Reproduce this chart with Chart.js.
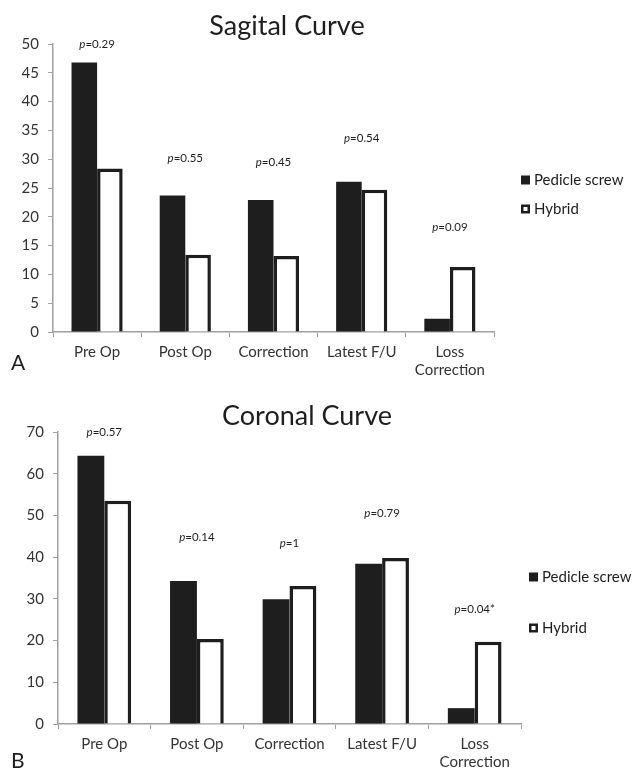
<!DOCTYPE html>
<html>
<head>
<meta charset="utf-8">
<script src="https://cdn.jsdelivr.net/npm/chart.js@4.4.1/dist/chart.umd.min.js"></script>
<style>
  body { margin: 0; background: #fff; }
  canvas { display: block; }
</style>
</head>
<body>
<canvas id="sagital" width="636" height="380"></canvas>
<canvas id="coronal" width="636" height="394"></canvas>
<script>
// Datos
const categories = ['Pre Op', 'Post Op', 'Correction', 'Latest F/U', ['Loss', 'Correction']];
const seriesNames = ['Pedicle screw', 'Hybrid'];

const sagitalScrew = [46.8, 23.7, 22.9, 26.1, 2.3];
const sagitalHybrid = [28.4, 13.4, 13.2, 24.7, 11.3];
const sagitalP = ['0.29', '0.55', '0.45', '0.54', '0.09'];
const sagitalPAt = [50, 30.2, 29.4, 33.7, 18.2];

const coronalScrew = [64.3, 34.3, 29.9, 38.4, 3.8];
const coronalHybrid = [53.5, 20.4, 33.1, 39.8, 19.7];
const coronalP = ['0.57', '0.14', '1', '0.79', '0.04*'];
const coronalPAt = [69.9, 44.8, 43.4, 50.4, 27.5];

const FONT = 'Lato, "Open Sans", sans-serif';
const INK = '#1e1e1e';
const AXIS = '#a0a0a0';

// Titulo, letra del panel, valores p y leyenda
const extras = {
    id: 'extras',
    afterDraw(chart, args, o) {
        const ctx = chart.ctx;
        const xs = chart.scales.x, ys = chart.scales.y;
        ctx.save();
        ctx.fillStyle = INK;
        ctx.textBaseline = 'alphabetic';
        ctx.textAlign = 'center';
        ctx.font = o.titleSize + 'px ' + FONT;
        ctx.fillText(o.title, o.titleX, o.titleY);

        ctx.textAlign = 'left';
        ctx.font = '21px ' + FONT;
        ctx.fillText(o.letter, 11, o.letterY);

        ctx.textBaseline = 'middle';
        o.pValues.forEach((v, i) => {
            const cx = xs.getPixelForValue(i);
            const cy = ys.getPixelForValue(o.pAt[i]);
            ctx.font = 'italic 11.5px ' + FONT;
            const w1 = ctx.measureText('p').width;
            ctx.font = '11.5px ' + FONT;
            const w2 = ctx.measureText('=' + v).width;
            const sx = cx - (w1 + w2) / 2;
            ctx.font = 'italic 11.5px ' + FONT;
            ctx.fillText('p', sx, cy);
            ctx.font = '11.5px ' + FONT;
            ctx.fillText('=' + v, sx + w1, cy);
        });

        // leyenda
        ctx.font = '15px ' + FONT;
        seriesNames.forEach((name, i) => {
            const lx = o.legendX, ly = o.legendY[i];
            ctx.fillStyle = INK;
            ctx.fillRect(lx, ly - 4.5, 9, 9);
            if (i === 1) {
                ctx.fillStyle = '#fff';
                ctx.fillRect(lx + 2.5, ly - 2, 4, 4);
            }
            ctx.fillStyle = INK;
            ctx.fillText(name, lx + 13, ly);
        });
        ctx.restore();
    }
};

function makeChart(id, screw, hybrid, yMax, step, o) {
    return new Chart(document.getElementById(id), {
        type: 'bar',
        data: {
            labels: categories,
            datasets: [{
                label: seriesNames[0],
                data: screw,
                backgroundColor: INK,
                borderWidth: 0,
                categoryPercentage: 0.58,
                barPercentage: 1.0
            }, {
                label: seriesNames[1],
                data: hybrid,
                backgroundColor: '#fff',
                borderColor: INK,
                borderWidth: 3.5,
                categoryPercentage: 0.58,
                barPercentage: 1.0
            }]
        },
        options: {
            responsive: false,
            animation: false,
            layout: {
                padding: { left: 0, right: o.padRight, top: o.padTop, bottom: 0 }
            },
            plugins: {
                legend: { display: false },
                tooltip: { enabled: false },
                extras: o
            },
            scales: {
                y: {
                    min: 0,
                    max: yMax,
                    ticks: {
                        stepSize: step,
                        color: '#333',
                        padding: 9,
                        font: { size: 15, family: FONT }
                    },
                    grid: {
                        drawOnChartArea: false,
                        tickLength: 5,
                        color: AXIS
                    },
                    border: { color: AXIS, width: 1.5 },
                    afterFit(s) { s.width = o.yWidth; }
                },
                x: {
                    ticks: {
                        color: '#333',
                        padding: 6,
                        maxRotation: 0,
                        autoSkip: false,
                        font: { size: 15, family: FONT }
                    },
                    grid: {
                        offset: true,
                        drawOnChartArea: false,
                        tickLength: 5,
                        color: AXIS
                    },
                    border: { color: AXIS, width: 1.5 },
                    afterFit(s) { s.height = o.xHeight; }
                }
            }
        },
        plugins: [extras]
    });
}

makeChart('sagital', sagitalScrew, sagitalHybrid, 50, 5, {
    title: 'Sagital Curve', titleX: 287, titleY: 35, titleSize: 27,
    letter: 'A', letterY: 370,
    pValues: sagitalP, pAt: sagitalPAt,
    legendX: 521, legendY: [180, 209],
    yWidth: 53, xHeight: 48, padRight: 142, padTop: 44
});

makeChart('coronal', coronalScrew, coronalHybrid, 70, 10, {
    title: 'Coronal Curve', titleX: 307, titleY: 45, titleSize: 27,
    letter: 'B', letterY: 388,
    pValues: coronalP, pAt: coronalPAt,
    legendX: 529, legendY: [197, 248],
    yWidth: 58, xHeight: 50, padRight: 115, padTop: 52
});
</script>
</body>
</html>
